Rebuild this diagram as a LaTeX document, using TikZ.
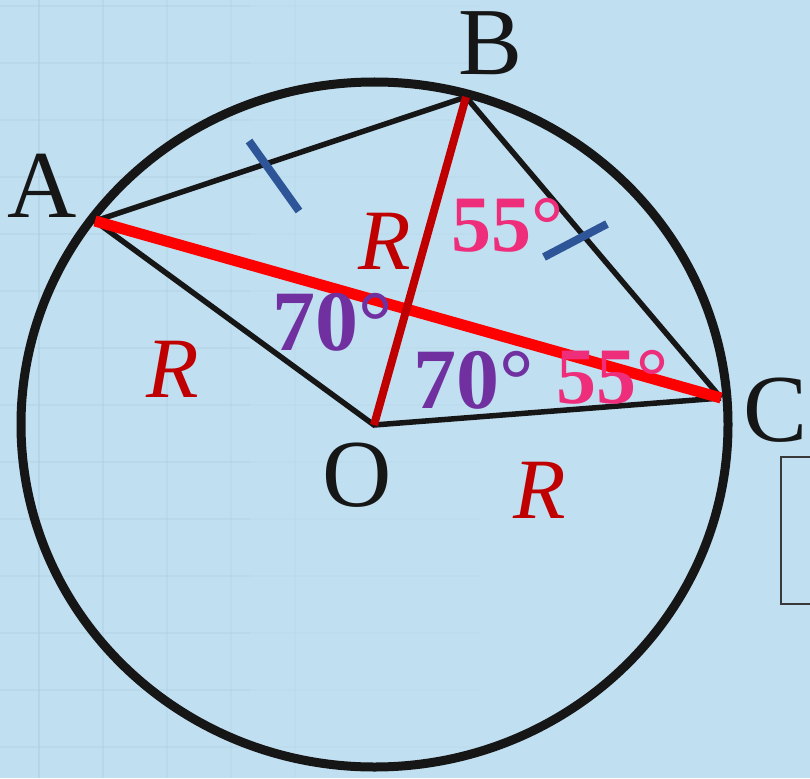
\documentclass[tikz,border=0pt]{standalone}
\usepackage{fontspec}
\setmainfont{Liberation Serif}
\definecolor{cBg}{HTML}{C0DFF1}
\definecolor{cGrid}{HTML}{ADCEE2}
\definecolor{cInk}{HTML}{161616}
\definecolor{cRed}{HTML}{FF0000}
\definecolor{cDark}{HTML}{C00000}
\definecolor{cPink}{HTML}{EE2D7B}
\definecolor{cPurple}{HTML}{7030A0}
\definecolor{cTick}{HTML}{2E5597}
\tikzset{
  rim/.style={draw=cInk,line width=9pt},
  seg/.style={draw=cInk,line width=5.5pt},
  seg-red/.style={draw=cRed,line width=11pt},
  seg-dark/.style={draw=cDark,line width=8pt},
  tick-mark/.style={draw=cTick,line width=8pt},
  grid-line/.style={draw=cGrid,line width=1.5pt},
  pt-label/.style={font=\fontsize{96}{96}\selectfont,text=cInk,inner sep=0pt},
  r-label/.style={font=\fontsize{86}{86}\selectfont\itshape,text=cDark,inner sep=0pt},
  ang-big/.style={font=\fontsize{86}{86}\selectfont\bfseries,text=cPurple,inner sep=0pt},
  ang-small/.style={font=\fontsize{80}{80}\selectfont\bfseries,text=cPink,inner sep=0pt},
}
\begin{document}
\begin{tikzpicture}[x=1pt,y=-1pt]
  \useasboundingbox[fill=cBg] (0,0) rectangle (810,778);
  % faint squared paper behind the figure
  \foreach \gx in {39,103,...,743}{
    \pgfmathsetmacro{\gop}{max(0,0.6-\gx/600)}
    \draw[grid-line,opacity=\gop] (\gx,0) -- (\gx,778);
  }
  \foreach \gy in {6,63,...,777}{
    \draw[grid-line,opacity=0.35] (0,\gy) -- (250,\gy);
    \draw[grid-line,opacity=0.15] (250,\gy) -- (480,\gy);
  }

  \coordinate (A) at (95,221);
  \coordinate (B) at (466,97);
  \coordinate (C) at (721,398);
  \coordinate (O) at (374,425);

  \draw[seg] (A) -- (B) -- (C);
  \draw[seg] (A) -- (O) -- (C);
  \draw[rim] (374.5,424.5) ellipse [x radius=353.5,y radius=342.5];
  \draw[seg-red] (A) -- (C);
  \draw[seg-dark] (B) -- (O);

  % equal-chord marks
  \draw[tick-mark] (249,141) -- (299,211);
  \draw[tick-mark] (544,257) -- (607,224);

  \node[pt-label] (lA) at (42,186) {A};
  \node[pt-label] (lB) at (491,43) {B};
  \node[pt-label] (lC) at (776,410) {C};
  \node[pt-label] (lO) at (357,475) {O};

  \node[r-label] (rBO) at (385,241) {R};
  \node[r-label] (rAO) at (173,369) {R};
  \node[r-label] (rOC) at (540,490) {R};

  \node[ang-big] (aL) at (333,322) {70°};
  \node[ang-big] (aR) at (474,380) {70°};
  \node[ang-small] (bB) at (507,225) {55°};
  \node[ang-small] (bC) at (612,377) {55°};

  % cut-off frame at the right edge
  \draw[draw=cInk!85,line width=1.8pt] (812,457) -- (781,457) -- (781,604) -- (812,604);
\end{tikzpicture}
\end{document}
